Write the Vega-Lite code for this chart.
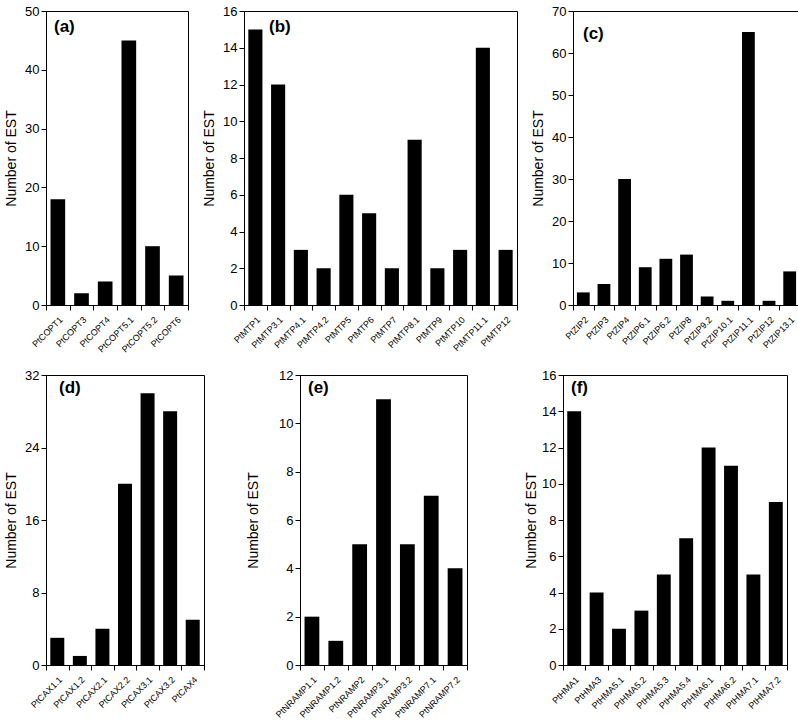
{
  "$schema": "https://vega.github.io/schema/vega-lite/v6.json",
  "padding": {"left": 4, "top": 4, "right": 0, "bottom": 0},
  "background": "white",
  "config": {
    "view": {"stroke": "black", "strokeWidth": 1},
    "font": "Liberation Sans",
    "axis": {
      "grid": false,
      "domainColor": "black",
      "tickColor": "black",
      "labelColor": "black",
      "titleColor": "black",
      "labelFont": "Liberation Sans",
      "titleFont": "Liberation Sans",
      "titleFontWeight": "normal",
      "labelFontSize": 13,
      "titleFontSize": 14,
      "tickSize": 5,
      "labelPadding": 2
    },
    "axisX": {
      "tickBand": "extent",
      "labelAngle": -45,
      "labelAlign": "right",
      "labelBaseline": "top",
      "labelFontSize": 9,
      "title": null,
      "labelPadding": 5
    },
    "axisY": {"titlePadding": 6},
    "title": {"anchor": "start", "frame": "group", "fontSize": 17, "fontWeight": "bold", "font": "Liberation Sans", "color": "black", "offset": -30, "dx": 8},
    "bar": {"color": "black"}
  },
  "spacing": 13,
  "vconcat": [
    {
      "spacing": 13,
      "hconcat": [
        {
          "width": 142, "height": 294,
          "title": {"text": "(a)", "dx": 8, "offset": -31},
          "data": {"values": [
            {"gene": "PtCOPT1", "est": 18}, {"gene": "PtCOPT3", "est": 2}, {"gene": "PtCOPT4", "est": 4},
            {"gene": "PtCOPT5.1", "est": 45}, {"gene": "PtCOPT5.2", "est": 10}, {"gene": "PtCOPT6", "est": 5}
          ]},
          "mark": {"type": "bar", "width": {"band": 0.62}},
          "encoding": {
            "x": {"field": "gene", "type": "nominal", "sort": null, "scale": {"paddingInner": 0, "paddingOuter": 0}},
            "y": {"field": "est", "type": "quantitative", "scale": {"domain": [0, 50], "nice": false}, "axis": {"values": [0, 10, 20, 30, 40, 50], "title": "Number of EST"}}
          }
        },
        {
          "width": 273, "height": 294,
          "title": {"text": "(b)", "dx": 25, "offset": -31},
          "data": {"values": [
            {"gene": "PtMTP1", "est": 15}, {"gene": "PtMTP3.1", "est": 12}, {"gene": "PtMTP4.1", "est": 3},
            {"gene": "PtMTP4.2", "est": 2}, {"gene": "PtMTP5", "est": 6}, {"gene": "PtMTP6", "est": 5},
            {"gene": "PtMTP7", "est": 2}, {"gene": "PtMTP8.1", "est": 9}, {"gene": "PtMTP9", "est": 2},
            {"gene": "PtMTP10", "est": 3}, {"gene": "PtMTP11.1", "est": 14}, {"gene": "PtMTP12", "est": 3}
          ]},
          "mark": {"type": "bar", "width": {"band": 0.62}},
          "encoding": {
            "x": {"field": "gene", "type": "nominal", "sort": null, "scale": {"paddingInner": 0, "paddingOuter": 0}},
            "y": {"field": "est", "type": "quantitative", "scale": {"domain": [0, 16], "nice": false}, "axis": {"values": [0, 2, 4, 6, 8, 10, 12, 14, 16], "title": "Number of EST"}}
          }
        },
        {
          "width": 227, "height": 294,
          "title": {"text": "(c)", "dx": 10, "offset": -38},
          "data": {"values": [
            {"gene": "PtZIP2", "est": 3}, {"gene": "PtZIP3", "est": 5}, {"gene": "PtZIP4", "est": 30},
            {"gene": "PtZIP6.1", "est": 9}, {"gene": "PtZIP6.2", "est": 11}, {"gene": "PtZIP8", "est": 12},
            {"gene": "PtZIP9.2", "est": 2}, {"gene": "PtZIP10.1", "est": 1}, {"gene": "PtZIP11.1", "est": 65},
            {"gene": "PtZIP12", "est": 1}, {"gene": "PtZIP13.1", "est": 8}
          ]},
          "mark": {"type": "bar", "width": {"band": 0.62}},
          "encoding": {
            "x": {"field": "gene", "type": "nominal", "sort": null, "scale": {"paddingInner": 0, "paddingOuter": 0}},
            "y": {"field": "est", "type": "quantitative", "scale": {"domain": [0, 70], "nice": false}, "axis": {"values": [0, 10, 20, 30, 40, 50, 60, 70], "title": "Number of EST"}}
          }
        }
      ]
    },
    {
      "spacing": 41,
      "hconcat": [
        {
          "width": 158, "height": 290,
          "title": {"text": "(d)", "dx": 13, "offset": -28},
          "data": {"values": [
            {"gene": "PtCAX1.1", "est": 3}, {"gene": "PtCAX1.2", "est": 1}, {"gene": "PtCAX2.1", "est": 4},
            {"gene": "PtCAX2.2", "est": 20}, {"gene": "PtCAX3.1", "est": 30}, {"gene": "PtCAX3.2", "est": 28},
            {"gene": "PtCAX4", "est": 5}
          ]},
          "mark": {"type": "bar", "width": {"band": 0.62}},
          "encoding": {
            "x": {"field": "gene", "type": "nominal", "sort": null, "scale": {"paddingInner": 0, "paddingOuter": 0}},
            "y": {"field": "est", "type": "quantitative", "scale": {"domain": [0, 32], "nice": false}, "axis": {"values": [0, 8, 16, 24, 32], "title": "Number of EST"}}
          }
        },
        {
          "spacing": 56,
          "hconcat": [
            {
              "width": 167, "height": 290,
              "title": {"text": "(e)", "dx": 8, "offset": -28},
              "data": {"values": [
                {"gene": "PtNRAMP1.1", "est": 2}, {"gene": "PtNRAMP1.2", "est": 1}, {"gene": "PtNRAMP2", "est": 5},
                {"gene": "PtNRAMP3.1", "est": 11}, {"gene": "PtNRAMP3.2", "est": 5}, {"gene": "PtNRAMP7.1", "est": 7},
                {"gene": "PtNRAMP7.2", "est": 4}
              ]},
              "mark": {"type": "bar", "width": {"band": 0.62}},
              "encoding": {
                "x": {"field": "gene", "type": "nominal", "sort": null, "scale": {"paddingInner": 0, "paddingOuter": 0}},
                "y": {"field": "est", "type": "quantitative", "scale": {"domain": [0, 12], "nice": false}, "axis": {"values": [0, 2, 4, 6, 8, 10, 12], "title": "Number of EST", "titlePadding": 18}}
              }
            },
            {
              "width": 224, "height": 290,
              "title": {"text": "(f)", "dx": 8, "offset": -28},
              "data": {"values": [
                {"gene": "PtHMA1", "est": 14}, {"gene": "PtHMA3", "est": 4}, {"gene": "PtHMA5.1", "est": 2},
                {"gene": "PtHMA5.2", "est": 3}, {"gene": "PtHMA5.3", "est": 5}, {"gene": "PtHMA5.4", "est": 7},
                {"gene": "PtHMA6.1", "est": 12}, {"gene": "PtHMA6.2", "est": 11}, {"gene": "PtHMA7.1", "est": 5},
                {"gene": "PtHMA7.2", "est": 9}
              ]},
              "mark": {"type": "bar", "width": {"band": 0.62}},
              "encoding": {
                "x": {"field": "gene", "type": "nominal", "sort": null, "scale": {"paddingInner": 0, "paddingOuter": 0}},
                "y": {"field": "est", "type": "quantitative", "scale": {"domain": [0, 16], "nice": false}, "axis": {"values": [0, 2, 4, 6, 8, 10, 12, 14, 16], "title": "Number of EST", "titlePadding": 3}}
              }
            }
          ]
        }
      ]
    }
  ]
}
